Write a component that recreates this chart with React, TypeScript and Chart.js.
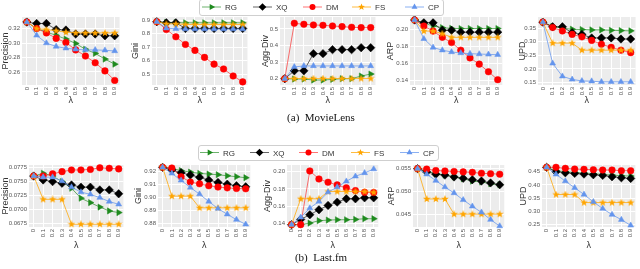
import React, { useEffect, useRef } from "react";
import { Chart, registerables } from "chart.js";

Chart.register(...registerables);

// ---------- data ----------
const LAMBDA = [0, 0.1, 0.2, 0.3, 0.4, 0.5, 0.6, 0.7, 0.8, 0.9];
const LAMBDA_LABELS = ["0", "0.1", "0.2", "0.3", "0.4", "0.5", "0.6", "0.7", "0.8", "0.9"];
const METHODS = ["RG", "XQ", "DM", "FS", "CP"];

// MovieLens
const mlPrecRG = [0.329, 0.32, 0.3153, 0.3106, 0.3055, 0.2994, 0.2914, 0.2858, 0.2778, 0.2708];
const mlPrecXQ = [0.329, 0.327, 0.327, 0.3186, 0.318, 0.3125, 0.3125, 0.3125, 0.31, 0.31];
const mlPrecDM = [0.329, 0.32, 0.314, 0.3064, 0.3008, 0.2905, 0.282, 0.2727, 0.2615, 0.2483];
const mlPrecFS = [0.329, 0.32, 0.3186, 0.317, 0.315, 0.314, 0.314, 0.314, 0.314, 0.314];
const mlPrecCP = [0.329, 0.3106, 0.3, 0.2952, 0.2928, 0.2914, 0.2905, 0.2905, 0.29, 0.289];

const mlGiniRG = [0.89, 0.884, 0.883, 0.882, 0.882, 0.882, 0.882, 0.882, 0.882, 0.882];
const mlGiniXQ = [0.89, 0.882, 0.882, 0.84, 0.84, 0.84, 0.84, 0.84, 0.84, 0.84];
const mlGiniDM = [0.89, 0.832, 0.778, 0.721, 0.677, 0.625, 0.575, 0.539, 0.487, 0.443];
const mlGiniFS = [0.89, 0.874, 0.874, 0.869, 0.869, 0.869, 0.869, 0.869, 0.869, 0.869];
const mlGiniCP = [0.89, 0.842, 0.837, 0.835, 0.835, 0.835, 0.835, 0.835, 0.835, 0.835];

const mlAggRG = [0.2, 0.198, 0.198, 0.192, 0.192, 0.196, 0.2, 0.2, 0.216, 0.228];
const mlAggXQ = [0.2, 0.2475, 0.2475, 0.351, 0.351, 0.375, 0.375, 0.375, 0.387, 0.387];
const mlAggDM = [0.2, 0.534, 0.528, 0.524, 0.522, 0.518, 0.514, 0.51, 0.508, 0.508];
const mlAggFS = [0.2, 0.201, 0.201, 0.201, 0.201, 0.201, 0.201, 0.201, 0.201, 0.201];
const mlAggCP = [0.2, 0.271, 0.277, 0.277, 0.277, 0.277, 0.277, 0.277, 0.277, 0.277];

const mlArpRG = [0.211, 0.2073, 0.204, 0.202, 0.2012, 0.201, 0.201, 0.201, 0.201, 0.201];
const mlArpXQ = [0.211, 0.2077, 0.2077, 0.199, 0.199, 0.1968, 0.1968, 0.1968, 0.1968, 0.1968];
const mlArpDM = [0.211, 0.204, 0.198, 0.1907, 0.1846, 0.1757, 0.1667, 0.1594, 0.1505, 0.1412];
const mlArpFS = [0.211, 0.198, 0.198, 0.195, 0.1907, 0.1907, 0.1907, 0.1907, 0.1907, 0.1907];
const mlArpCP = [0.211, 0.189, 0.1789, 0.1757, 0.1736, 0.1724, 0.1716, 0.1712, 0.1708, 0.1704];

const mlUpdRG = [0.372, 0.356, 0.35, 0.346, 0.345, 0.3436, 0.3436, 0.342, 0.341, 0.34];
const mlUpdXQ = [0.372, 0.355, 0.355, 0.333, 0.327, 0.314, 0.314, 0.314, 0.31, 0.31];
const mlUpdDM = [0.372, 0.3526, 0.3397, 0.327, 0.318, 0.305, 0.291, 0.2795, 0.269, 0.26];
const mlUpdFS = [0.372, 0.295, 0.295, 0.295, 0.269, 0.269, 0.269, 0.269, 0.269, 0.269];
const mlUpdCP = [0.372, 0.2205, 0.173, 0.1615, 0.156, 0.155, 0.1526, 0.1526, 0.1526, 0.1526];

// Last.fm
const lfPrecRG = [0.076, 0.0765, 0.076, 0.075, 0.0738, 0.072, 0.0712, 0.0704, 0.0697, 0.0694];
const lfPrecXQ = [0.076, 0.0753, 0.075, 0.0747, 0.0744, 0.074, 0.074, 0.0735, 0.0735, 0.0728];
const lfPrecDM = [0.076, 0.076, 0.0764, 0.0768, 0.0771, 0.0771, 0.0772, 0.0775, 0.0774, 0.0773];
const lfPrecFS = [0.076, 0.0718, 0.0718, 0.0718, 0.0673, 0.0673, 0.0673, 0.0673, 0.0673, 0.0673];
const lfPrecCP = [0.076, 0.0758, 0.0758, 0.0751, 0.074, 0.0731, 0.0727, 0.0721, 0.0714, 0.0709];

const lfGiniRG = [0.9228, 0.922, 0.9203, 0.9192, 0.9182, 0.9177, 0.9172, 0.9164, 0.9157, 0.9149];
const lfGiniXQ = [0.9228, 0.9208, 0.9187, 0.917, 0.9152, 0.9131, 0.9113, 0.91, 0.9088, 0.908];
const lfGiniDM = [0.9228, 0.9223, 0.9157, 0.9116, 0.9103, 0.9088, 0.9078, 0.9072, 0.9067, 0.9065];
const lfGiniFS = [0.9228, 0.9009, 0.9009, 0.9009, 0.892, 0.892, 0.892, 0.892, 0.892, 0.892];
const lfGiniCP = [0.9228, 0.9182, 0.9129, 0.9075, 0.9024, 0.8968, 0.8914, 0.8871, 0.883, 0.8794];

const lfAggRG = [0.1385, 0.1385, 0.1404, 0.1431, 0.1438, 0.1442, 0.1442, 0.1446, 0.1454, 0.1454];
const lfAggXQ = [0.1385, 0.1446, 0.15, 0.1558, 0.1608, 0.1646, 0.1685, 0.1685, 0.1696, 0.1696];
const lfAggDM = [0.1385, 0.1385, 0.2008, 0.1915, 0.1877, 0.1846, 0.1812, 0.178, 0.176, 0.1758];
const lfAggFS = [0.1385, 0.1685, 0.1685, 0.1685, 0.1769, 0.1769, 0.1769, 0.1769, 0.1769, 0.176];
const lfAggCP = [0.1385, 0.147, 0.1577, 0.1654, 0.1762, 0.182, 0.1888, 0.1946, 0.1985, 0.203];

const lfArpRG = [0.055, 0.0544, 0.054, 0.0536, 0.0532, 0.0528, 0.0523, 0.0521, 0.0517, 0.0515];
const lfArpXQ = [0.055, 0.0543, 0.0538, 0.0536, 0.0532, 0.0529, 0.0526, 0.0523, 0.0519, 0.0515];
const lfArpDM = [0.055, 0.0549, 0.0546, 0.0545, 0.0544, 0.0543, 0.0542, 0.054, 0.0539, 0.0538];
const lfArpFS = [0.055, 0.0484, 0.0484, 0.0484, 0.0451, 0.0451, 0.0451, 0.0451, 0.0451, 0.0451];
const lfArpCP = [0.055, 0.0538, 0.0524, 0.051, 0.0497, 0.0482, 0.0468, 0.0455, 0.0439, 0.0425];

const lfUpdRG = [0.4666, 0.4538, 0.45, 0.4475, 0.445, 0.4424, 0.44, 0.4373, 0.4347, 0.4334];
const lfUpdXQ = [0.4666, 0.45, 0.446, 0.4436, 0.441, 0.4385, 0.436, 0.4309, 0.427, 0.4245];
const lfUpdDM = [0.4666, 0.4666, 0.4627, 0.46, 0.459, 0.4576, 0.4564, 0.4564, 0.4538, 0.4538];
const lfUpdFS = [0.4666, 0.3634, 0.3634, 0.3634, 0.3328, 0.3328, 0.3328, 0.3328, 0.3328, 0.3328];
const lfUpdCP = [0.4666, 0.44, 0.4143, 0.3889, 0.3634, 0.3354, 0.31, 0.287, 0.2678, 0.2462];

// y tick values and labels
const mlPrecTicks = [0.26, 0.28, 0.3, 0.32];
const mlPrecTickLabels = ["0.26", "0.28", "0.30", "0.32"];
const mlGiniTicks = [0.5, 0.6, 0.7, 0.8, 0.9];
const mlGiniTickLabels = ["0.5", "0.6", "0.7", "0.8", "0.9"];
const mlAggTicks = [0.2, 0.3, 0.4, 0.5];
const mlAggTickLabels = ["0.2", "0.3", "0.4", "0.5"];
const mlArpTicks = [0.14, 0.16, 0.18, 0.2];
const mlArpTickLabels = ["0.14", "0.16", "0.18", "0.20"];
const mlUpdTicks = [0.15, 0.2, 0.25, 0.3, 0.35];
const mlUpdTickLabels = ["0.15", "0.20", "0.25", "0.30", "0.35"];
const lfPrecTicks = [0.0675, 0.07, 0.0725, 0.075, 0.0775];
const lfPrecTickLabels = ["0.0675", "0.0700", "0.0725", "0.0750", "0.0775"];
const lfGiniTicks = [0.88, 0.89, 0.9, 0.91, 0.92];
const lfGiniTickLabels = ["0.88", "0.89", "0.90", "0.91", "0.92"];
const lfAggTicks = [0.14, 0.16, 0.18, 0.2];
const lfAggTickLabels = ["0.14", "0.16", "0.18", "0.20"];
const lfArpTicks = [0.045, 0.05, 0.055];
const lfArpTickLabels = ["0.045", "0.050", "0.055"];
const lfUpdTicks = [0.25, 0.3, 0.35, 0.4, 0.45];
const lfUpdTickLabels = ["0.25", "0.30", "0.35", "0.40", "0.45"];

// ---------- styling ----------
const FONT = "'Liberation Sans', Arial, Helvetica, sans-serif";
const COLORS: Record<string, string> = {
  RG: "#1e8a1e",
  XQ: "#000000",
  DM: "#ff0000",
  FS: "#ffa500",
  CP: "#6495ed",
};
const LINE_COLORS: Record<string, string> = {
  RG: "rgba(30,138,30,0.65)",
  XQ: "rgba(0,0,0,0.6)",
  DM: "rgba(255,0,0,0.55)",
  FS: "rgba(255,165,0,0.75)",
  CP: "rgba(100,149,237,0.75)",
};

function makeStar(color: string, size: number) {
  const c = document.createElement("canvas");
  c.width = size;
  c.height = size;
  const ctx = c.getContext("2d")!;
  const cx = size / 2, cy = size / 2, R = size / 2, r = R * 0.42;
  ctx.beginPath();
  for (let i = 0; i < 10; i++) {
    const ang = -Math.PI / 2 + (i * Math.PI) / 5;
    const rad = i % 2 === 0 ? R : r;
    const px = cx + Math.cos(ang) * rad;
    const py = cy + Math.sin(ang) * rad;
    if (i === 0) ctx.moveTo(px, py);
    else ctx.lineTo(px, py);
  }
  ctx.closePath();
  ctx.fillStyle = color;
  ctx.fill();
  return c;
}

function methodPoint(m: string): any {
  switch (m) {
    case "RG": return { pointStyle: "triangle", rotation: 90, radius: 3.6 };
    case "XQ": return { pointStyle: "rectRot", rotation: 0, radius: 4.2 };
    case "DM": return { pointStyle: "circle", rotation: 0, radius: 3.3 };
    case "FS": return { pointStyle: makeStar(COLORS.FS, 8), rotation: 0, radius: 3 };
    default: return { pointStyle: "triangle", rotation: 0, radius: 3.4 };
  }
}

type Spec = {
  title: string;
  series: number[][];
  yTicks: number[];
  yLabels: string[];
  yMin: number;
  yMax: number;
  canvasLeft: number;
  plotLeft: number;
  plotRight: number;
  row: number;
};

const ROWS = [
  { plotTop: 17, plotBottom: 85, padTop: 7, xH: 21 },
  { plotTop: 165, plotBottom: 227, padTop: 8, xH: 24 },
];

const PANELS: Spec[] = [
  { title: "Precision", series: [mlPrecRG, mlPrecXQ, mlPrecDM, mlPrecFS, mlPrecCP], yTicks: mlPrecTicks, yLabels: mlPrecTickLabels, yMin: 0.242, yMax: 0.336, canvasLeft: 0, plotLeft: 22, plotRight: 122, row: 0 },
  { title: "Gini", series: [mlGiniRG, mlGiniXQ, mlGiniDM, mlGiniFS, mlGiniCP], yTicks: mlGiniTicks, yLabels: mlGiniTickLabels, yMin: 0.42, yMax: 0.925, canvasLeft: 130, plotLeft: 152, plotRight: 250, row: 0 },
  { title: "Agg-Div", series: [mlAggRG, mlAggXQ, mlAggDM, mlAggFS, mlAggCP], yTicks: mlAggTicks, yLabels: mlAggTickLabels, yMin: 0.162, yMax: 0.572, canvasLeft: 260, plotLeft: 280, plotRight: 378, row: 0 },
  { title: "ARP", series: [mlArpRG, mlArpXQ, mlArpDM, mlArpFS, mlArpCP], yTicks: mlArpTicks, yLabels: mlArpTickLabels, yMin: 0.135, yMax: 0.2145, canvasLeft: 385, plotLeft: 410, plotRight: 505, row: 0 },
  { title: "UPD", series: [mlUpdRG, mlUpdXQ, mlUpdDM, mlUpdFS, mlUpdCP], yTicks: mlUpdTicks, yLabels: mlUpdTickLabels, yMin: 0.141, yMax: 0.391, canvasLeft: 517, plotLeft: 538, plotRight: 638, row: 0 },
  { title: "Precision", series: [lfPrecRG, lfPrecXQ, lfPrecDM, lfPrecFS, lfPrecCP], yTicks: lfPrecTicks, yLabels: lfPrecTickLabels, yMin: 0.0668, yMax: 0.078, canvasLeft: 0, plotLeft: 29, plotRight: 126, row: 1 },
  { title: "Gini", series: [lfGiniRG, lfGiniXQ, lfGiniDM, lfGiniFS, lfGiniCP], yTicks: lfGiniTicks, yLabels: lfGiniTickLabels, yMin: 0.8774, yMax: 0.9246, canvasLeft: 133, plotLeft: 158, plotRight: 253, row: 1 },
  { title: "Agg-Div", series: [lfAggRG, lfAggXQ, lfAggDM, lfAggFS, lfAggCP], yTicks: lfAggTicks, yLabels: lfAggTickLabels, yMin: 0.1358, yMax: 0.2077, canvasLeft: 262, plotLeft: 287, plotRight: 381, row: 1 },
  { title: "ARP", series: [lfArpRG, lfArpXQ, lfArpDM, lfArpFS, lfArpCP], yTicks: lfArpTicks, yLabels: lfArpTickLabels, yMin: 0.0423, yMax: 0.0558, canvasLeft: 386, plotLeft: 413, plotRight: 507, row: 1 },
  { title: "UPD", series: [lfUpdRG, lfUpdXQ, lfUpdDM, lfUpdFS, lfUpdCP], yTicks: lfUpdTicks, yLabels: lfUpdTickLabels, yMin: 0.24, yMax: 0.4755, canvasLeft: 518, plotLeft: 542, plotRight: 638, row: 1 },
];

const bgPlugin = {
  id: "panelBg",
  beforeDraw(chart: any) {
    const { ctx, chartArea: a } = chart;
    ctx.save();
    ctx.fillStyle = "#ececec";
    ctx.fillRect(a.left, a.top, a.right - a.left, a.bottom - a.top);
    ctx.restore();
  },
};

function Panel({ spec }: { spec: Spec }) {
  const ref = useRef<HTMLCanvasElement>(null);
  const row = ROWS[spec.row];
  const padRight = 2;
  const yW = spec.plotLeft - spec.canvasLeft;
  const width = yW + (spec.plotRight - spec.plotLeft) + padRight;
  const height = row.padTop + (row.plotBottom - row.plotTop) + row.xH;
  const top = row.plotTop - row.padTop;

  useEffect(() => {
    if (!ref.current) return;
    const datasets = METHODS.map((m, i) => {
      const p = methodPoint(m);
      return {
        label: m,
        data: LAMBDA.map((x, j) => ({ x, y: spec.series[i][j] })),
        borderColor: LINE_COLORS[m],
        borderWidth: 1,
        backgroundColor: COLORS[m],
        pointBackgroundColor: COLORS[m],
        pointBorderColor: COLORS[m],
        pointBorderWidth: 0.5,
        pointStyle: p.pointStyle,
        pointRotation: p.rotation,
        pointRadius: p.radius,
        tension: 0,
        clip: false as any,
        order: 5 - i,
      };
    });
    const tickFont = { family: FONT, size: 6 };
    const titleFont = { family: FONT, size: 9 };
    const chart = new Chart(ref.current, {
      type: "line",
      data: { datasets },
      plugins: [bgPlugin],
      options: {
        animation: false,
        responsive: false,
        maintainAspectRatio: false,
        devicePixelRatio: 1,
        layout: { padding: { top: row.padTop, right: padRight, left: 0, bottom: 0 }, autoPadding: false } as any,
        plugins: { legend: { display: false }, tooltip: { enabled: false } },
        scales: {
          x: {
            type: "linear",
            bounds: "data",
            min: -0.05,
            max: 0.95,
            afterBuildTicks: (s: any) => { s.ticks = LAMBDA.map((v) => ({ value: v })); },
            afterFit: (s: any) => { s.height = row.xH; },
            ticks: {
              callback: (_v: any, i: number) => LAMBDA_LABELS[i],
              minRotation: 90,
              maxRotation: 90,
              autoSkip: false,
              padding: 2,
              font: tickFont,
              color: "#555",
            },
            grid: { color: "#ffffff", lineWidth: 1, drawTicks: false },
            border: { display: false },
            title: { display: true, text: "λ", font: titleFont, color: "#333", padding: 0 },
          },
          y: {
            type: "linear",
            bounds: "data",
            min: spec.yMin,
            max: spec.yMax,
            afterBuildTicks: (s: any) => { s.ticks = spec.yTicks.map((v) => ({ value: v })); },
            afterFit: (s: any) => { s.width = yW; },
            ticks: {
              callback: (_v: any, i: number) => spec.yLabels[i],
              padding: 2,
              font: tickFont,
              color: "#555",
            },
            grid: { color: "#ffffff", lineWidth: 1, drawTicks: false },
            border: { display: false },
            title: { display: true, text: spec.title, font: titleFont, color: "#333", padding: 0 },
          },
        },
      } as any,
    });
    return () => chart.destroy();
  }, []);

  return (
    <canvas
      ref={ref}
      width={width}
      height={height}
      style={{ position: "absolute", left: spec.canvasLeft, top, width, height }}
    />
  );
}

function Marker({ m, x, y }: { m: string; x: number; y: number }) {
  const c = COLORS[m];
  if (m === "RG") return <polygon points={`${x + 3.6},${y} ${x - 1.8},${y - 3.1} ${x - 1.8},${y + 3.1}`} fill={c} />;
  if (m === "XQ") return <polygon points={`${x},${y - 3.8} ${x + 3.8},${y} ${x},${y + 3.8} ${x - 3.8},${y}`} fill={c} />;
  if (m === "DM") return <circle cx={x} cy={y} r={3} fill={c} />;
  if (m === "FS") {
    const pts: string[] = [];
    for (let i = 0; i < 10; i++) {
      const ang = -Math.PI / 2 + (i * Math.PI) / 5;
      const rad = i % 2 === 0 ? 3.6 : 1.5;
      pts.push(`${(x + Math.cos(ang) * rad).toFixed(2)},${(y + Math.sin(ang) * rad).toFixed(2)}`);
    }
    return <polygon points={pts.join(" ")} fill={c} />;
  }
  return <polygon points={`${x},${y - 3.4} ${x + 3},${y + 1.7} ${x - 3},${y + 1.7}`} fill={c} />;
}

function Legend({ left, right, top, bottom, textX }: { left: number; right: number; top: number; bottom: number; textX: number[] }) {
  const cy = (top + bottom) / 2;
  return (
    <svg width={640} height={269} style={{ position: "absolute", left: 0, top: 0, pointerEvents: "none" }}>
      <rect x={left + 0.5} y={top + 0.5} width={right - left} height={bottom - top} rx={2.5} fill="#ffffff" fillOpacity={0.9} stroke="#cfcfcf" strokeWidth={1} />
      {METHODS.map((m, i) => {
        const tx = textX[i];
        return (
          <g key={m}>
            <line x1={tx - 23} y1={cy} x2={tx - 4} y2={cy} stroke={LINE_COLORS[m]} strokeWidth={1} />
            <Marker m={m} x={tx - 13.5} y={cy} />
            <text x={tx} y={cy + 3} fontFamily={FONT} fontSize={8} fill="#333">{m}</text>
          </g>
        );
      })}
    </svg>
  );
}

const LEGEND1_X = [225, 276, 326, 375, 428];
const LEGEND2_X = [223, 273, 322, 374, 423];

export default function App() {
  return (
    <div style={{ position: "fixed", left: 0, top: 0, width: 640, height: 269, background: "#ffffff", overflow: "hidden" }}>
      {PANELS.map((p, i) => (
        <Panel key={i} spec={p} />
      ))}
      <Legend left={199} right={443} top={-1} bottom={15} textX={LEGEND1_X} />
      <Legend left={198} right={438} top={145} bottom={160} textX={LEGEND2_X} />
      <div style={{ position: "absolute", left: 220, width: 202, top: 111, textAlign: "center", fontFamily: "'Liberation Serif', 'Times New Roman', serif", fontSize: 11, color: "#111", lineHeight: "13px" }}>
        (a)&nbsp;&nbsp;MovieLens
      </div>
      <div style={{ position: "absolute", left: 220, width: 202, top: 251, textAlign: "center", fontFamily: "'Liberation Serif', 'Times New Roman', serif", fontSize: 11, color: "#111", lineHeight: "13px" }}>
        (b)&nbsp;&nbsp;Last.fm
      </div>
    </div>
  );
}
